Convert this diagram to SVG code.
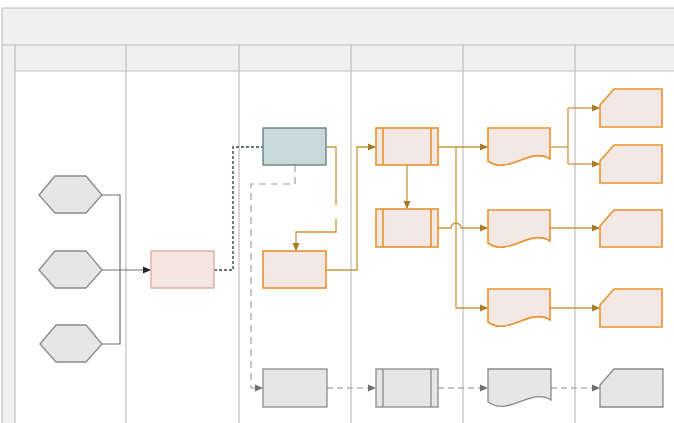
<svg xmlns="http://www.w3.org/2000/svg" width="674" height="423" viewBox="0 0 674 423">
<style>
.lane{stroke:#c0c0c0;stroke-width:1.2;fill:none}
.hdr{fill:#f0f0f0}
.hex{fill:#e6e6e6;stroke:#8a8a8a;stroke-width:1.3}
.pink{fill:#f6e6e2;stroke:#d9a8a0;stroke-width:1.3}
.teal{fill:#c9d8d8;stroke:#5e7c7c;stroke-width:1.3}
.orange{fill:#f4e8e5;stroke:#e8922e;stroke-width:1.6}
.gray{fill:#e6e6e6;stroke:#8a8a8a;stroke-width:1.3}
.c-black{stroke:#707070;stroke-width:1.2;fill:none}
.c-dot{stroke:#2f4a4a;stroke-width:1.4;fill:none;stroke-dasharray:3,2}
.c-dash{stroke:#a0a0a0;stroke-width:1.2;fill:none;stroke-dasharray:7,5}
.c-or{stroke:#c8963e;stroke-width:1.3;fill:none}
.c-gd{stroke:#8c8c8c;stroke-width:1.2;fill:none;stroke-dasharray:6,4}
</style>
<defs>
<marker id="aBlack" markerWidth="8" markerHeight="8" refX="7" refY="4" orient="auto" markerUnits="userSpaceOnUse"><path d="M0,0.5 L8,4 L0,7.5 Z" fill="#222"/></marker>
<marker id="aOr" markerWidth="8" markerHeight="8" refX="7" refY="4" orient="auto" markerUnits="userSpaceOnUse"><path d="M0,0.5 L8,4 L0,7.5 Z" fill="#a87a2a"/></marker>
<marker id="aGray" markerWidth="8" markerHeight="8" refX="7" refY="4" orient="auto" markerUnits="userSpaceOnUse"><path d="M0,0.5 L8,4 L0,7.5 Z" fill="#707070"/></marker>
</defs>
<rect width="674" height="423" fill="#ffffff"/>
<g id="pool">
<rect class="hdr" x="2" y="8" width="680" height="37"/>
<rect class="hdr" x="2" y="45" width="680" height="26"/>
<rect class="hdr" x="2" y="71" width="13" height="360"/>
<line class="lane" x1="2" y1="8" x2="674" y2="8"/>
<line class="lane" x1="2" y1="45" x2="674" y2="45"/>
<line class="lane" x1="15" y1="71" x2="674" y2="71"/>
<line class="lane" x1="2" y1="8" x2="2" y2="423"/>
<line class="lane" x1="15" y1="45" x2="15" y2="423"/>
<line class="lane" x1="126" y1="45" x2="126" y2="423"/>
<line class="lane" x1="239" y1="45" x2="239" y2="423"/>
<line class="lane" x1="351" y1="45" x2="351" y2="423"/>
<line class="lane" x1="463" y1="45" x2="463" y2="423"/>
<line class="lane" x1="575" y1="45" x2="575" y2="423"/>
</g>
<g id="connectors">
<path class="c-black" d="M102,195 H120 V344 H102"/>
<path class="c-black" d="M102,270 H150" stroke="#222" marker-end="url(#aBlack)"/>
<path class="c-dot" d="M214,270 H233 V147 H263"/>
<path class="c-dash" d="M295,165 V184 H251 V388 H262" marker-end="url(#aGray)"/>
<path class="c-or" d="M327,147 H336 V205"/>
<path class="c-or" d="M336,219 V232 H296 V250" marker-end="url(#aOr)"/>
<path class="c-or" d="M327,270 H357 V147 H375" marker-end="url(#aOr)"/>
<path class="c-or" d="M407,165 V208" marker-end="url(#aOr)"/>
<path class="c-or" d="M438,147 H487" marker-end="url(#aOr)"/>
<path class="c-or" d="M456,147 V308 H487" marker-end="url(#aOr)"/>
<path class="c-or" d="M438,228 H451 A5,5 0 0 1 461,228 H487" marker-end="url(#aOr)"/>
<path class="c-or" d="M550,147 H568"/>
<path class="c-or" d="M568,108 V164"/>
<path class="c-or" d="M568,108 H599" marker-end="url(#aOr)"/>
<path class="c-or" d="M568,164 H599" marker-end="url(#aOr)"/>
<path class="c-or" d="M550,228 H599" marker-end="url(#aOr)"/>
<path class="c-or" d="M550,308 H599" marker-end="url(#aOr)"/>
<path class="c-gd" d="M327,388 H375" marker-end="url(#aGray)"/>
<path class="c-gd" d="M438,388 H487" marker-end="url(#aGray)"/>
<path class="c-gd" d="M551,388 H599" marker-end="url(#aGray)"/>
</g>
<g id="hex1"><polygon class="hex" points="39,195 55,176 86,176 102,195 86,213 55,213"/></g>
<g id="hex2"><polygon class="hex" points="39,270 55,251 86,251 102,270 86,288 55,288"/></g>
<g id="hex3"><polygon class="hex" points="40,344 56,325 86,325 102,344 86,362 56,362"/></g>
<g id="start"><rect class="pink" x="151" y="251" width="63" height="37"/></g>
<g id="decision"><rect class="teal" x="263" y="128" width="63" height="37"/></g>
<g id="task"><rect class="orange" x="263" y="251" width="63" height="37"/></g>
<g id="sub1"><rect class="orange" x="376" y="128" width="62" height="37"/><line class="orange" x1="383" y1="128" x2="383" y2="165"/><line class="orange" x1="431" y1="128" x2="431" y2="165"/></g>
<g id="sub2"><rect class="orange" x="376" y="209" width="62" height="38"/><line class="orange" x1="383" y1="209" x2="383" y2="247"/><line class="orange" x1="431" y1="209" x2="431" y2="247"/></g>
<g id="doc1"><path class="orange" d="M488,128 H550 V159 C530,146 508,176 488,161 Z"/></g>
<g id="doc2"><path class="orange" d="M488,210 H550 V241 C530,228 508,258 488,243 Z"/></g>
<g id="doc3"><path class="orange" d="M488,289 H550 V320 C530,307 508,337 488,322 Z"/></g>
<g id="card1"><path class="orange" d="M614,89 H662 V127 H600 V105 Z"/></g>
<g id="card2"><path class="orange" d="M614,145 H662 V183 H600 V161 Z"/></g>
<g id="card3"><path class="orange" d="M614,210 H662 V247 H600 V226 Z"/></g>
<g id="card4"><path class="orange" d="M614,289 H662 V327 H600 V305 Z"/></g>
<g id="gbox"><rect class="gray" x="263" y="369" width="64" height="38"/></g>
<g id="gsub"><rect class="gray" x="376" y="369" width="62" height="38"/><line class="gray" x1="383" y1="369" x2="383" y2="407"/><line class="gray" x1="431" y1="369" x2="431" y2="407"/></g>
<g id="gdoc"><path class="gray" d="M488,369 H551 V400 C531,387 509,417 488,402 Z"/></g>
<g id="gcard"><path class="gray" d="M614,369 H663 V407 H600 V385 Z"/></g>
</svg>
